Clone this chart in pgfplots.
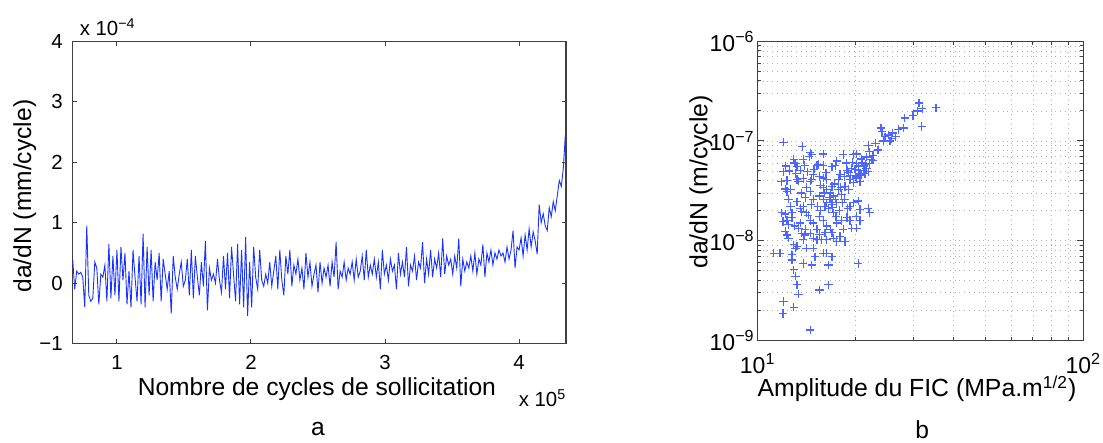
\documentclass[border=0pt]{standalone}
\usepackage{fontspec}
\setmainfont{Liberation Sans}
\usepackage{pgfplots}
\pgfplotsset{compat=1.18}
\definecolor{mblue}{rgb}{0.1,0.2,1}
\definecolor{pblue}{rgb}{0.3,0.4,1}
\definecolor{axgray}{gray}{0.25}
\begin{document}
\begin{tikzpicture}
\path[use as bounding box] (0,0) rectangle (551.5pt,221.5pt);
\begin{axis}[
  at={(36.35pt,49.65pt)}, anchor=south west,
  scale only axis, width=246.65pt, height=151.2pt,
  xmin=0.67, xmax=4.35, ymin=-1, ymax=4,
  xtick={1,2,3,4}, xticklabels={1,2,3,4},
  ytick={-1,0,1,2,3,4}, yticklabels={−1,0,1,2,3,4},
  tick align=inside, major tick length=2.2pt,
  axis line style={axgray, line width=0.7pt},
  tick style={axgray, line width=0.5pt},
  ticklabel style={font=\fontsize{10.2}{12}\selectfont},
  xticklabel style={yshift=-2.4pt},
  yticklabel style={xshift=-1.5pt},
  xlabel={Nombre de cycles de sollicitation},
  ylabel={da/dN (mm/cycle)},
  label style={font=\fontsize{12.3}{14}\selectfont},
  xlabel style={at={(axis description cs:0.495,0)}, anchor=base, yshift=-26.15pt},
  ylabel style={at={(axis description cs:-0.097,0.488)}, anchor=center},
  clip=false,
]
\addplot[draw=mblue, line width=0.45pt, mark=none] coordinates {
(0.67,0.40) (0.685,-0.10) (0.70,0.20) (0.715,0.15) (0.73,0.18) (0.745,0.10) (0.76,-0.40) (0.775,0.95)
(0.79,-0.20) (0.805,-0.30) (0.82,-0.25) (0.835,0.35) (0.85,0.25) (0.865,-0.35) (0.88,0.15) (0.895,0.10)
(0.91,0.30) (0.925,-0.30) (0.94,0.65) (0.955,-0.25) (0.97,0.45) (0.985,-0.20) (1.00,0.55) (1.015,-0.30)
(1.03,0.60) (1.045,0.05) (1.06,0.50) (1.075,-0.35) (1.09,0.20) (1.105,-0.40) (1.12,0.55) (1.135,0.10)
(1.15,-0.30) (1.165,0.45) (1.18,-0.35) (1.195,0.82) (1.21,-0.40) (1.225,0.60) (1.24,-0.20) (1.255,0.55)
(1.27,-0.30) (1.285,0.35) (1.30,0.05) (1.315,0.50) (1.33,-0.30) (1.345,0.40) (1.36,0.15) (1.375,-0.10)
(1.39,0.20) (1.405,-0.50) (1.42,0.45) (1.435,0.10) (1.45,-0.10) (1.465,0.15) (1.48,0.35) (1.495,-0.05)
(1.51,0.05) (1.525,0.40) (1.54,-0.20) (1.555,0.55) (1.57,-0.25) (1.585,0.45) (1.60,0.10) (1.615,-0.20)
(1.63,0.35) (1.645,-0.05) (1.66,0.70) (1.675,-0.45) (1.69,0.25) (1.705,0.05) (1.72,0.15) (1.735,0.00)
(1.75,0.40) (1.765,0.05) (1.78,-0.15) (1.795,0.45) (1.81,-0.10) (1.825,0.50) (1.84,-0.25) (1.855,0.60)
(1.87,0.15) (1.885,-0.30) (1.90,0.65) (1.915,-0.35) (1.93,0.55) (1.945,-0.40) (1.96,0.76) (1.975,-0.54)
(1.99,0.35) (2.005,-0.40) (2.02,0.60) (2.035,0.10) (2.05,-0.10) (2.065,0.55) (2.08,0.05) (2.095,-0.05)
(2.11,0.15) (2.125,0.00) (2.14,0.35) (2.155,-0.05) (2.17,0.20) (2.185,0.45) (2.20,-0.10) (2.215,0.55)
(2.23,0.05) (2.245,-0.20) (2.26,0.45) (2.275,0.15) (2.29,0.55) (2.305,-0.05) (2.32,0.30) (2.335,0.15)
(2.35,0.40) (2.365,0.05) (2.38,0.25) (2.395,-0.10) (2.41,0.50) (2.425,0.10) (2.44,0.35) (2.455,-0.05)
(2.47,0.15) (2.485,0.30) (2.50,-0.15) (2.515,0.35) (2.53,0.00) (2.545,0.25) (2.56,0.10) (2.575,0.30)
(2.59,-0.05) (2.605,0.35) (2.62,0.10) (2.635,0.68) (2.65,-0.10) (2.665,0.20) (2.68,0.10) (2.695,0.35)
(2.71,0.05) (2.725,0.25) (2.74,0.15) (2.755,0.35) (2.77,0.05) (2.785,0.40) (2.80,0.10) (2.815,0.20)
(2.83,0.45) (2.845,0.05) (2.86,0.55) (2.875,0.10) (2.89,0.30) (2.905,0.15) (2.92,0.40) (2.935,0.10)
(2.95,0.35) (2.965,-0.10) (2.98,0.55) (2.995,0.15) (3.01,0.30) (3.025,0.05) (3.04,0.40) (3.055,0.20)
(3.07,0.30) (3.085,-0.10) (3.10,0.50) (3.115,0.15) (3.13,0.35) (3.145,0.10) (3.16,0.60) (3.175,-0.05)
(3.19,0.30) (3.205,0.20) (3.22,0.45) (3.235,0.05) (3.25,0.35) (3.265,0.25) (3.28,0.68) (3.295,0.00)
(3.31,0.40) (3.325,0.15) (3.34,0.55) (3.355,0.10) (3.37,0.40) (3.385,0.25) (3.40,0.50) (3.415,0.10)
(3.43,0.74) (3.445,0.15) (3.46,0.45) (3.475,0.30) (3.49,0.40) (3.505,0.15) (3.52,0.45) (3.535,0.25)
(3.55,0.74) (3.565,-0.05) (3.58,0.40) (3.595,0.20) (3.61,0.35) (3.625,0.25) (3.64,0.45) (3.655,0.20)
(3.67,0.50) (3.685,0.15) (3.70,0.40) (3.715,0.30) (3.73,0.64) (3.745,0.10) (3.76,0.50) (3.775,0.35)
(3.79,0.55) (3.805,0.30) (3.82,0.50) (3.835,0.40) (3.85,0.55) (3.865,0.45) (3.88,0.50) (3.895,0.35)
(3.91,0.60) (3.925,0.40) (3.94,0.55) (3.955,0.87) (3.97,0.25) (3.985,0.60) (4.00,0.55) (4.015,0.75)
(4.03,0.45) (4.045,0.80) (4.06,0.55) (4.075,0.90) (4.09,0.60) (4.105,0.85) (4.12,0.70) (4.135,0.48)
(4.15,1.30) (4.165,1.00) (4.18,1.15) (4.195,0.95) (4.21,0.87) (4.225,1.25) (4.24,1.10) (4.255,1.35)
(4.27,1.20) (4.285,1.45) (4.30,1.70) (4.315,1.60) (4.33,1.90) (4.345,2.45)
};
\node[anchor=base west, yshift=3pt, font=\fontsize{10.2}{12}\selectfont] at (rel axis cs:0,1) {x 10\textsuperscript{−4}};
\node[anchor=base west, yshift=-31.5pt, font=\fontsize{10.2}{12}\selectfont] at (rel axis cs:0.89,0) {x 10\textsuperscript{5}};
\node[font=\fontsize{12.3}{14}\selectfont, inner sep=0pt, anchor=base] at (axis description cs:0.497,-0.302) {a};
\end{axis}

\begin{axis}[
  at={(378.85pt,51.35pt)}, anchor=south west,
  scale only axis, width=162.8pt, height=149.5pt,
  xmode=log, ymode=log,
  xmin=10, xmax=100, ymin=1e-9, ymax=1e-6,
  xtick={10,100}, xticklabels={10\textsuperscript{1},10\textsuperscript{2}},
  ytick={1e-9,1e-8,1e-7,1e-6},
  yticklabels={10\textsuperscript{−9},10\textsuperscript{−8},10\textsuperscript{−7},10\textsuperscript{−6}},
  minor xtick={20,30,40,50,60,70,80,90},
  minor ytick={2e-9,3e-9,4e-9,5e-9,6e-9,7e-9,8e-9,9e-9,2e-8,3e-8,4e-8,5e-8,6e-8,7e-8,8e-8,9e-8,2e-7,3e-7,4e-7,5e-7,6e-7,7e-7,8e-7,9e-7},
  grid=both,
  major grid style={dotted, gray!60, line width=0.35pt},
  minor grid style={dotted, gray!60, line width=0.35pt},
  tick align=inside, major tick length=3pt, minor tick length=1.6pt,
  axis line style={axgray, line width=0.7pt},
  tick style={axgray, line width=0.5pt},
  ticklabel style={font=\fontsize{11.5}{13}\selectfont},
  xticklabel style={yshift=-3pt},
  yticklabel style={xshift=2pt},
  xlabel={Amplitude du FIC (MPa.m\textsuperscript{1/2})},
  ylabel={da/dN (m/cycle)},
  label style={font=\fontsize{12.4}{14}\selectfont},
  xlabel style={at={(axis description cs:0.489,0)}, anchor=base, yshift=-28.3pt},
  ylabel style={at={(axis description cs:-0.174,0.53)}, anchor=center},
  clip=false,
]
\addplot[only marks, mark=+, mark size=2.1pt, pblue, mark options={pblue, solid}, line width=0.6pt] table {
31.3 2.4e-7
35.3 2.15e-7
32.0 2.1e-7
31.0 2.0e-7
31.9 1.4e-7
30.0 1.8e-7
28.3 1.7e-7
28.0 1.35e-7
27.0 1.3e-7
26.0 1.2e-7
23.9 1.35e-7
24.1 1.25e-7
25.2 1.15e-7
25.5 1.0e-7
24.3 1.0e-7
26.5 1.1e-7
25.8 1.05e-7
21.9 9.0e-8
23.4 8.1e-8
22.6 7.2e-8
21.4 5.8e-8
20.1 7.4e-8
23.0 9.5e-8
22.3 6.5e-8
21.0 6.0e-8
22.0 7.8e-8
24.6 1.1e-7
20.8 6.6e-8
21.6 6.9e-8
12.0 9.7e-8
13.7 8.8e-8
14.5 7.6e-8
14.4 7.0e-8
14.65 7.3e-8
15.9 7.4e-8
18.3 7.3e-8
19.7 7.3e-8
12.9 6.5e-8
13.05 5.9e-8
13.2 5.5e-8
12.95 6.0e-8
13.8 6.5e-8
13.95 5.7e-8
13.5 5.1e-8
12.0 4.9e-8
11.8 3.9e-8
12.15 3.3e-8
12.3 4.0e-8
13.2 4.1e-8
13.35 3.95e-8
13.8 4.2e-8
14.5 3.95e-8
14.65 4.1e-8
15.2 5.7e-8
15.35 5.8e-8
15.9 5.7e-8
14.8 4.6e-8
15.5 4.4e-8
15.9 4.25e-8
16.3 4.1e-8
16.9 5.5e-8
17.3 5.7e-8
17.9 4.6e-8
18.8 5.1e-8
19.45 5.3e-8
19.9 5.2e-8
20.1 5.9e-8
20.35 5.1e-8
20.6 4.7e-8
21.1 5.1e-8
21.6 5.3e-8
22.1 5.9e-8
22.6 6.4e-8
19.2 4.1e-8
19.7 3.8e-8
20.1 4.25e-8
20.85 4.55e-8
21.35 4.7e-8
21.85 4.9e-8
20.6 3.9e-8
18.55 3.5e-8
19.0 3.25e-8
17.7 3.25e-8
18.1 2.9e-8
15.9 3.4e-8
16.3 3.25e-8
16.7 3.0e-8
17.1 2.8e-8
16.9 3.5e-8
17.3 2.6e-8
17.5 2.4e-8
16.7 2.6e-8
16.3 2.4e-8
15.9 2.6e-8
15.5 2.8e-8
16.9 2.3e-8
16.5 2.1e-8
17.1 1.9e-8
16.1 2.2e-8
17.0 2.15e-8
16.6 2.7e-8
16.0 3.0e-8
14.8 2.6e-8
14.5 3.1e-8
14.1 3.4e-8
12.6 3.25e-8
12.3 3.1e-8
12.45 2.6e-8
12.6 2.2e-8
12.75 1.9e-8
12.15 1.85e-8
11.85 1.9e-8
11.95 1.55e-8
12.3 1.6e-8
12.45 1.45e-8
12.75 1.7e-8
13.2 2.45e-8
13.5 2.1e-8
13.65 1.95e-8
13.8 2.2e-8
14.1 1.9e-8
14.3 1.8e-8
14.5 1.6e-8
14.8 1.5e-8
15.5 1.75e-8
15.9 1.6e-8
16.3 1.4e-8
16.7 1.3e-8
16.1 1.2e-8
17.5 1.5e-8
18.1 1.6e-8
18.8 1.7e-8
19.2 1.6e-8
20.1 1.75e-8
19.2 2.2e-8
19.7 2.4e-8
20.35 2.5e-8
20.6 2.05e-8
21.85 2.1e-8
22.1 1.9e-8
20.6 1.6e-8
20.1 1.33e-8
19.45 1.33e-8
13.35 1.33e-8
13.65 1.19e-8
13.95 1.14e-8
14.5 1.19e-8
14.8 1.06e-8
15.2 1.02e-8
15.7 1.02e-8
16.3 1.02e-8
17.1 1.06e-8
17.9 1.1e-8
18.55 9.8e-9
17.5 9.8e-9
12.9 9.1e-9
13.2 8.8e-9
13.05 8.4e-9
12.75 7.2e-9
13.8 1.02e-8
14.1 8.4e-9
14.8 8.4e-9
11.2 7.5e-9
11.7 7.5e-9
15.0 6.9e-9
15.9 7.5e-9
16.3 7.5e-9
16.9 6.9e-9
13.8 5.9e-9
14.65 5.7e-9
16.5 5.7e-9
20.35 5.9e-9
12.9 5.1e-9
13.05 4.4e-9
13.2 3.6e-9
13.35 2.9e-9
12.75 6.4e-9
15.5 3.2e-9
16.5 3.6e-9
12.0 2.45e-9
11.95 1.85e-9
12.9 2.15e-9
14.5 1.27e-9
12.45 1.06e-8
12.3 1.14e-8
12.15 1.24e-8
13.0 1.4e-8
13.5 1.5e-8
14.0 1.3e-8
15.2 1.3e-8
15.5 1.15e-8
16.9 1.2e-8
18.3 1.3e-8
12.2 5.6e-8
12.5 5.0e-8
13.1 4.7e-8
14.2 4.9e-8
14.9 5.2e-8
15.6 3.6e-8
17.7 4.1e-8
18.5 4.4e-8
19.0 4.8e-8
17.2 3.7e-8
18.0 3.4e-8
16.2 4.8e-8
17.5 6.3e-8
19.5 6.1e-8
18.7 6.0e-8
20.4 5.6e-8
21.2 5.6e-8
20.0 4.4e-8
19.3 4.5e-8
14.0 2.7e-8
13.6 3.0e-8
14.6 2.3e-8
15.3 2.2e-8
15.6 2.0e-8
18.5 2.6e-8
18.9 2.1e-8
17.8 2.0e-8
17.4 1.75e-8
18.2 2.4e-8
};
\node[font=\fontsize{12.3}{14}\selectfont, inner sep=0pt, anchor=base] at (axis description cs:0.505,-0.330) {b};
\end{axis}
\end{tikzpicture}
\end{document}
